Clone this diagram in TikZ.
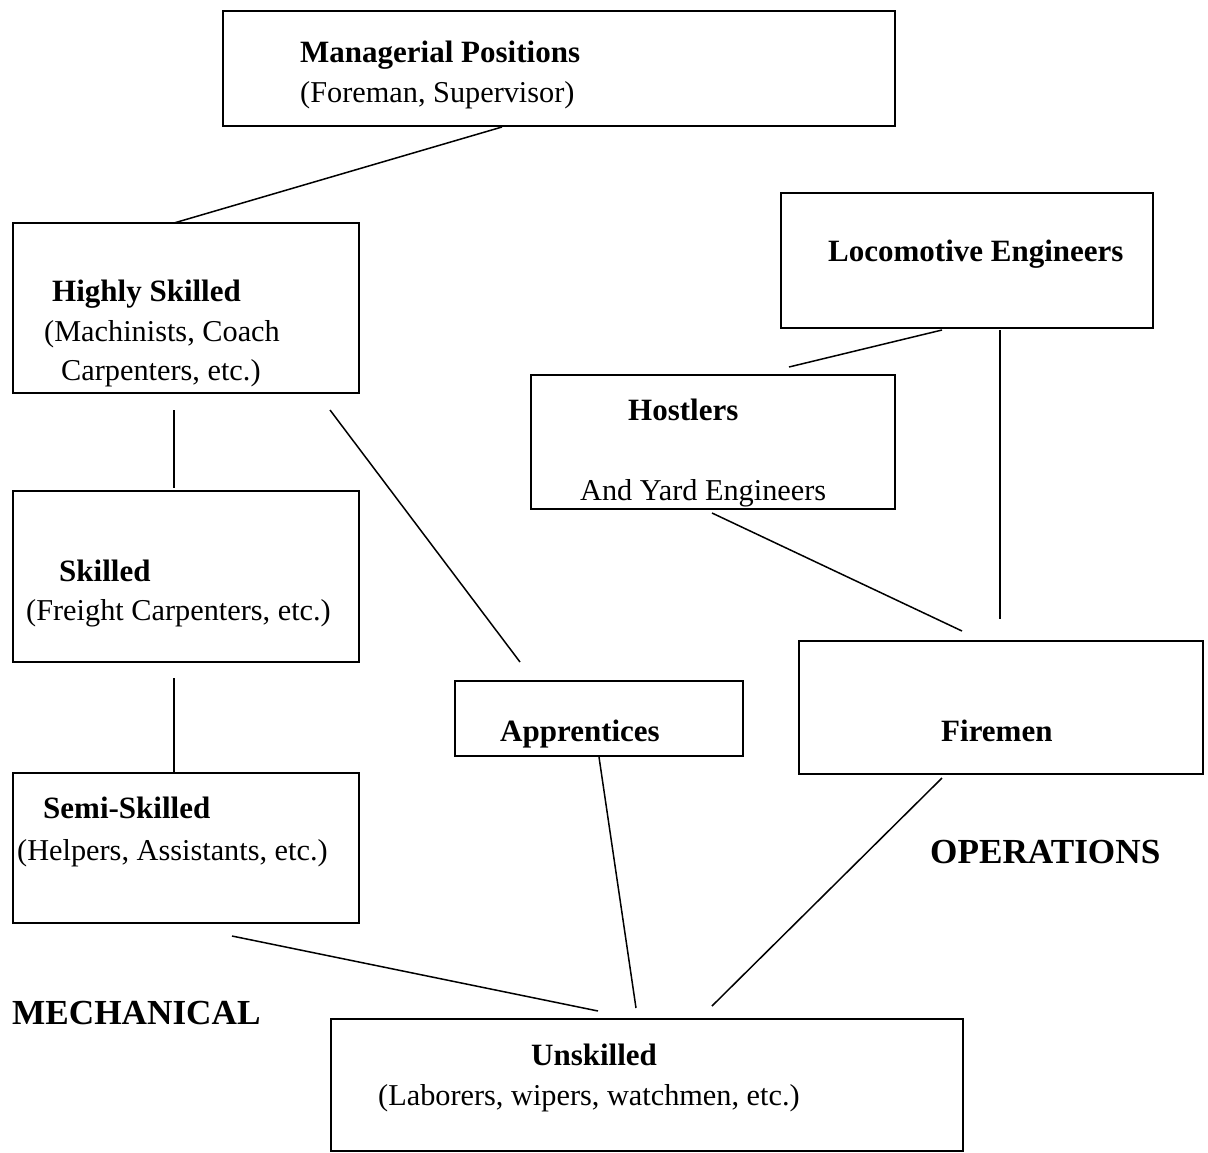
\documentclass[tikz,border=0pt]{standalone}
\usepackage{fontspec}
\setmainfont{Liberation Serif}
\begin{document}
\begin{tikzpicture}[x=1pt,y=-1pt,
  box/.style={draw,line width=1.6pt,rectangle,inner sep=0pt,anchor=north west},
  lbl/.style={anchor=base west,inner sep=0pt,font=\fontsize{30.3}{36}\selectfont},
  blbl/.style={lbl,font=\fontsize{31}{36}\selectfont\bfseries},
  big/.style={anchor=base west,inner sep=0pt,font=\fontsize{35.2}{40}\selectfont\bfseries},
  conn/.style={line width=1.5pt}]
\useasboundingbox (0,0) rectangle (1208,1152);
% boxes
\node[box,minimum width=672pt,minimum height=115pt] (mgr) at (222,10) {};
\node[box,minimum width=346pt,minimum height=170pt] (hs) at (12,222) {};
\node[box,minimum width=372pt,minimum height=135pt] (loco) at (780,192) {};
\node[box,minimum width=364pt,minimum height=134pt] (host) at (530,374) {};
\node[box,minimum width=346pt,minimum height=171pt] (sk) at (12,490) {};
\node[box,minimum width=288pt,minimum height=75pt] (app) at (454,680) {};
\node[box,minimum width=404pt,minimum height=133pt] (fire) at (798,640) {};
\node[box,minimum width=346pt,minimum height=150pt] (semi) at (12,772) {};
\node[box,minimum width=632pt,minimum height=132pt] (unsk) at (330,1018) {};
% texts
\node[blbl] (t1) at (300,62) {Managerial Positions};
\node[lbl] (t2) at (300,102) {(Foreman, Supervisor)};
\node[blbl] (t3) at (52,301) {Highly Skilled};
\node[lbl] (t4) at (44,341) {(Machinists, Coach};
\node[lbl] (t5) at (61,380) {Carpenters, etc.)};
\node[blbl] (t6) at (828,261) {Locomotive Engineers};
\node[blbl] (t7) at (628,420) {Hostlers};
\node[lbl] (t8) at (580,500) {And Yard Engineers};
\node[blbl] (t9) at (59,581) {Skilled};
\node[lbl] (t10) at (26,620) {(Freight Carpenters, etc.)};
\node[blbl] (t11) at (500,741) {Apprentices};
\node[blbl] (t12) at (941,741) {Firemen};
\node[blbl] (t13) at (43,818) {Semi-Skilled};
\node[lbl] (t14) at (17,860) {(Helpers, Assistants, etc.)};
\node[big] (t15) at (930,863) {OPERATIONS};
\node[big] (t16) at (12,1024) {MECHANICAL};
\node[blbl] (t17) at (531,1065) {Unskilled};
\node[lbl] (t18) at (378,1105) {(Laborers, wipers, watchmen, etc.)};
% connector end points
\coordinate (a1) at (502,127); \coordinate (a2) at (174,223);
\coordinate (b1) at (174,410); \coordinate (b2) at (174,488);
\coordinate (c1) at (330,410); \coordinate (c2) at (520,662);
\coordinate (d1) at (174,678); \coordinate (d2) at (174,773);
\coordinate (e1) at (942,330); \coordinate (e2) at (789,367);
\coordinate (f1) at (1000,330); \coordinate (f2) at (1000,619);
\coordinate (g1) at (712,513); \coordinate (g2) at (962,631);
\coordinate (h1) at (599,757); \coordinate (h2) at (636,1008);
\coordinate (i1) at (942,778); \coordinate (i2) at (712,1006);
\coordinate (j1) at (232,936); \coordinate (j2) at (598,1011);
\draw[conn] (a1) -- (a2);
\draw[conn] (b1) -- (b2);
\draw[conn] (c1) -- (c2);
\draw[conn] (d1) -- (d2);
\draw[conn] (e1) -- (e2);
\draw[conn] (f1) -- (f2);
\draw[conn] (g1) -- (g2);
\draw[conn] (h1) -- (h2);
\draw[conn] (i1) -- (i2);
\draw[conn] (j1) -- (j2);
\end{tikzpicture}
\end{document}
